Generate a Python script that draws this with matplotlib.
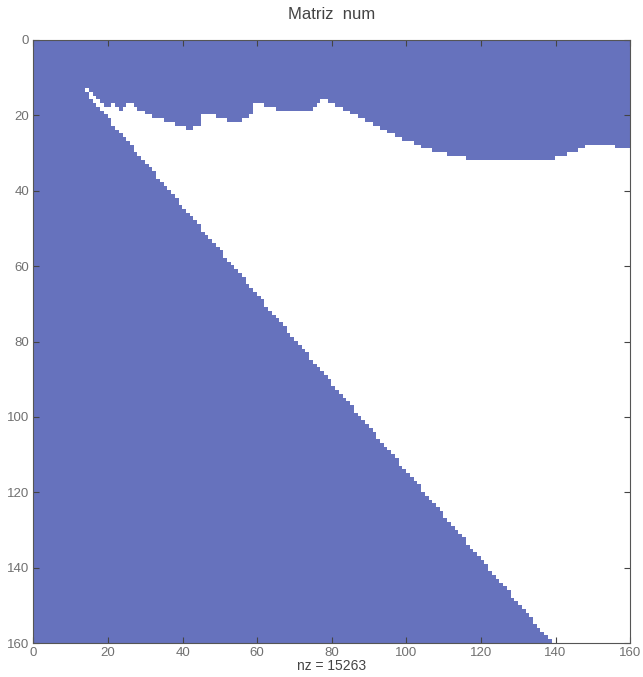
import numpy as np
import matplotlib
matplotlib.use('Agg')
import matplotlib.pyplot as plt
from matplotlib.colors import ListedColormap

N = 160  # matrix is N x N
NZ = 15263  # as printed under the plot

# first column that is zero (white), for rows 13..159 (the diagonal edge)
first_row = 13
left_edge = [14, 15, 15, 16, 17, 18, 19, 20, 21, 21, 22, 23, 24, 25, 26, 27, 27, 28, 29, 30,
             31, 32, 33, 33, 34, 35, 36, 37, 38, 39, 39, 40, 41, 42, 43, 44, 45, 45, 46, 47,
             48, 49, 50, 51, 51, 52, 53, 54, 55, 56, 57, 57, 58, 59, 60, 61, 62, 62, 63, 64,
             65, 66, 67, 68, 68, 69, 70, 71, 72, 73, 74, 74, 75, 76, 77, 78, 79, 80, 80, 81,
             82, 83, 84, 85, 86, 86, 87, 88, 89, 90, 91, 92, 92, 93, 94, 95, 96, 97, 98, 98,
             99, 100, 101, 102, 103, 104, 104, 105, 106, 107, 108, 109, 110, 110, 111, 112, 113, 114, 115, 116,
             116, 117, 118, 119, 120, 121, 122, 122, 123, 124, 125, 126, 127, 128, 128, 129, 130, 131, 132, 133,
             134, 134, 135, 136, 137, 138, 139]

# first zero row for columns 14..159 (the wavy top edge)
first_col = 14
top_edge = [13, 14, 15, 16, 17, 18, 18, 17, 18, 19, 18, 17, 17, 18, 19, 19, 20, 20, 21, 21,
            21, 22, 22, 22, 23, 23, 23, 24, 24, 23, 23, 20, 20, 20, 20, 21, 21, 21, 22, 22,
            22, 22, 21, 21, 20, 17, 17, 17, 18, 18, 18, 19, 19, 19, 19, 19, 19, 19, 19, 19,
            19, 18, 17, 16, 16, 17, 17, 18, 18, 19, 19, 20, 20, 21, 21, 22, 22, 23, 23, 24,
            24, 25, 25, 26, 26, 27, 27, 27, 28, 28, 29, 29, 29, 30, 30, 30, 30, 31, 31, 31,
            31, 31, 32, 32, 32, 32, 32, 32, 32, 32, 32, 32, 32, 32, 32, 32, 32, 32, 32, 32,
            32, 32, 32, 32, 32, 32, 31, 31, 31, 30, 30, 30, 29, 29, 28, 28, 28, 28, 28, 28,
            28, 28, 29, 29, 29, 29]

# build the sparsity pattern
M = np.ones((N, N), dtype=int)
left = np.full(N, N + 1)
left[first_row:first_row + len(left_edge)] = left_edge
top = np.full(N, N + 1)
top[first_col:first_col + len(top_edge)] = top_edge
rows, cols = np.indices((N, N))
M[(rows >= top[cols]) & (cols >= left[rows])] = 0

fig = plt.figure(figsize=(6.43, 6.77), dpi=100)
ax = fig.add_axes([0.052, 0.050, 0.928, 0.891])

blue = '#6672bd'
ax.imshow(M, cmap=ListedColormap(['white', blue]), vmin=0, vmax=1,
          extent=(0, N, N, 0), interpolation='nearest', aspect='auto')
ax.set_xlim(0, N)
ax.set_ylim(N, 0)

ticks = np.arange(0, 161, 20)
ax.set_xticks(ticks)
ax.set_yticks(ticks)
ax.tick_params(direction='in', length=4, width=0.8, top=True, right=True,
               labelsize=9.5, labelcolor='#707070', color='#444444', pad=3)
for lab in ax.get_xticklabels() + ax.get_yticklabels():
    lab.set_family('Liberation Sans')
for s in ax.spines.values():
    s.set_color('#555555')
    s.set_linewidth(0.8)

ax.set_title('Matriz  num', fontsize=12, family='Liberation Sans', color='#444444', pad=15)
ax.set_xlabel('nz = %d' % NZ, fontsize=10, family='Liberation Sans', color='#444444', labelpad=0)

fig.savefig('out.png', dpi=100)
